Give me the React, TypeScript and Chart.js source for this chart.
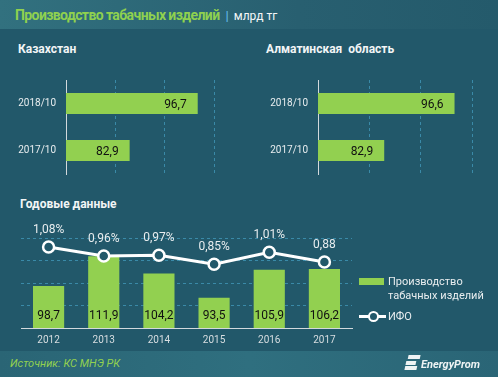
import React, { useEffect, useRef } from 'react';
import { Chart, registerables } from 'chart.js';

Chart.register(...registerables);

const FONT = 'Roboto, "Noto Sans", sans-serif';
const BG = '#22586a';
const GREEN = '#92d050';
const GRID = '#3a8aa8';
const AXIS = '#d3d9dc';
const LABEL = '#e8edef';

// Data
const periodLabels = ['2018/10', '2017/10'];
const kazakhstanValues = [96.7, 82.9];
const almatyValues = [96.6, 82.9];
const years = ['2012', '2013', '2014', '2015', '2016', '2017'];
const productionValues = [98.7, 111.9, 104.2, 93.5, 105.9, 106.2];
const ifoValues = [1.08, 0.96, 0.97, 0.85, 1.01, 0.88];
const ifoLabels = ['1,08%', '0,96%', '0,97%', '0,85%', '1,01%', '0,88'];

const fmt = (v: number) => v.toFixed(1).replace('.', ',');

type HBarProps = {
  values: number[];
  left: number;
  top: number;
  width: number;
  height: number;
  axisWidth: number;
  padRight: number;
};

function HBar({ values, left, top, width, height, axisWidth, padRight }: HBarProps) {
  const ref = useRef<HTMLCanvasElement>(null);
  useEffect(() => {
    const labelPlugin = {
      id: 'hbarLabels',
      afterDatasetsDraw(chart: any) {
        const ctx = chart.ctx;
        const meta = chart.getDatasetMeta(0);
        ctx.save();
        ctx.font = `12px ${FONT}`;
        ctx.fillStyle = '#111';
        ctx.textAlign = 'right';
        ctx.textBaseline = 'middle';
        meta.data.forEach((bar: any, i: number) => {
          ctx.fillText(fmt(values[i]), bar.x - 11, bar.y + 1);
        });
        ctx.restore();
      },
    };
    const chart = new Chart(ref.current as HTMLCanvasElement, {
      type: 'bar',
      data: {
        labels: periodLabels,
        datasets: [
          {
            data: values,
            backgroundColor: GREEN,
            barPercentage: 0.45,
            categoryPercentage: 1,
          },
        ],
      },
      options: {
        indexAxis: 'y',
        responsive: false,
        animation: false,
        layout: { padding: { left: 0, right: padRight, top: 10, bottom: 8 } },
        plugins: { legend: { display: false }, tooltip: { enabled: false } },
        scales: {
          x: {
            min: 70,
            max: 100,
            ticks: { display: false, stepSize: 10 },
            grid: {
              color: (c: any) => (c.tick && c.tick.value === 70 ? 'rgba(0,0,0,0)' : GRID),
              drawTicks: false,
              lineWidth: 1,
            },
            border: { display: false, dash: [3, 3] },
            afterFit: (s: any) => {
              s.height = 0;
            },
          },
          y: {
            ticks: { color: LABEL, font: { family: FONT, size: 10 }, padding: 10 },
            grid: { display: false, drawTicks: false },
            border: { display: true, color: AXIS, width: 1 },
            afterFit: (s: any) => {
              s.width = axisWidth;
            },
          },
        },
      } as any,
      plugins: [labelPlugin],
    });
    return () => chart.destroy();
  }, []);
  return (
    <canvas
      ref={ref}
      width={width}
      height={height}
      style={{ position: 'absolute', left, top, width, height }}
    />
  );
}

function Annual() {
  const ref = useRef<HTMLCanvasElement>(null);
  useEffect(() => {
    const labelPlugin = {
      id: 'annualLabels',
      afterDatasetsDraw(chart: any) {
        const ctx = chart.ctx;
        const lineMeta = chart.getDatasetMeta(0);
        const barMeta = chart.getDatasetMeta(1);
        ctx.save();
        ctx.font = `12px ${FONT}`;
        ctx.textAlign = 'center';
        ctx.textBaseline = 'middle';
        ctx.fillStyle = '#111';
        barMeta.data.forEach((bar: any, i: number) => {
          ctx.fillText(fmt(productionValues[i]), bar.x, chart.chartArea.bottom - 12);
        });
        ctx.fillStyle = LABEL;
        lineMeta.data.forEach((pt: any, i: number) => {
          ctx.fillText(ifoLabels[i], pt.x, pt.y - 17);
        });
        ctx.restore();
      },
    };
    const chart = new Chart(ref.current as HTMLCanvasElement, {
      type: 'bar',
      data: {
        labels: years,
        datasets: [
          {
            type: 'line',
            data: ifoValues,
            yAxisID: 'y1',
            borderColor: '#ffffff',
            borderWidth: 3,
            pointRadius: 5.5,
            pointBackgroundColor: BG,
            pointBorderColor: '#ffffff',
            pointBorderWidth: 2.5,
            tension: 0,
            clip: false,
          },
          {
            type: 'bar',
            data: productionValues,
            yAxisID: 'y',
            backgroundColor: GREEN,
            barPercentage: 0.565,
            categoryPercentage: 1,
          },
        ],
      },
      options: {
        responsive: false,
        animation: false,
        layout: { padding: { left: 21, right: 18, top: 23, bottom: 0 } },
        plugins: { legend: { display: false }, tooltip: { enabled: false } },
        scales: {
          x: {
            offset: true,
            ticks: { color: '#d8dee1', font: { family: FONT, size: 10 }, padding: 6 },
            grid: { display: false, drawTicks: false },
            border: { display: true, color: AXIS, width: 1 },
            afterFit: (s: any) => {
              s.height = 22;
            },
          },
          y: {
            min: 80,
            max: 120,
            ticks: { display: false, stepSize: 10 },
            grid: {
              color: (c: any) => (c.tick && c.tick.value === 80 ? 'rgba(0,0,0,0)' : GRID),
              drawTicks: false,
              lineWidth: 1,
            },
            border: { display: false, dash: [3, 3] },
            afterFit: (s: any) => {
              s.width = 0;
            },
          },
          y1: {
            display: false,
            min: 0,
            max: 1.2,
          },
        },
      } as any,
      plugins: [labelPlugin],
    });
    return () => chart.destroy();
  }, []);
  return (
    <canvas
      ref={ref}
      width={370}
      height={135}
      style={{ position: 'absolute', left: 0, top: 215, width: 370, height: 135 }}
    />
  );
}

export default function App() {
  const abs = (o: React.CSSProperties): React.CSSProperties => ({ position: 'absolute', whiteSpace: 'nowrap', ...o });
  return (
    <div
      style={{
        position: 'fixed',
        left: 0,
        top: 0,
        width: 498,
        height: 377,
        background: BG,
        overflow: 'hidden',
        fontFamily: FONT,
      }}
    >
      {/* header */}
      <div style={abs({ left: 0, top: 0, width: 498, height: 29, background: 'linear-gradient(to right, #32717f, #285f70 60%, #245a6b)' })} />
      <div style={abs({ left: 15, top: 6, lineHeight: '18px', fontSize: 14 })}>
        <span style={{ color: '#8fd14f', fontWeight: 700, letterSpacing: -0.6 }}>Производство табачных изделий</span>
        <span style={{ color: '#5fb3e3', fontWeight: 700, marginLeft: 6, fontSize: 13 }}>|</span>
        <span style={{ color: '#f4f7f8', marginLeft: 5, fontSize: 12 }}>млрд тг</span>
      </div>

      {/* section titles */}
      <div style={abs({ left: 18, top: 41, lineHeight: '16px', fontSize: 12, fontWeight: 700, color: '#f2f5f6' })}>Казахстан</div>
      <div style={abs({ left: 266, top: 41, lineHeight: '16px', fontSize: 12, fontWeight: 700, color: '#f2f5f6', whiteSpace: 'pre' })}>Алматинская  область</div>
      <div style={abs({ left: 20, top: 196, lineHeight: '16px', fontSize: 12, fontWeight: 700, color: '#f2f5f6' })}>Годовые данные</div>

      <HBar values={kazakhstanValues} left={0} top={64} width={250} height={126} axisWidth={66} padRight={36} />
      <HBar values={almatyValues} left={250} top={64} width={248} height={126} axisWidth={68} padRight={26} />
      <Annual />

      {/* legend */}
      <div style={abs({ left: 359, top: 278, width: 25, height: 7, background: GREEN })} />
      <div style={abs({ left: 388, top: 274.5, lineHeight: '14.3px', fontSize: 11, color: LABEL })}>
        Производство
        <br />
        табачных изделий
      </div>
      <div style={abs({ left: 359, top: 315.3, width: 27, height: 3, background: '#ffffff' })} />
      <div
        style={abs({
          left: 367.8,
          top: 311.3,
          width: 11,
          height: 11,
          borderRadius: '50%',
          border: '2.5px solid #ffffff',
          background: BG,
          boxSizing: 'border-box',
        })}
      />
      <div style={abs({ left: 388, top: 309.5, lineHeight: '14px', fontSize: 11, color: LABEL })}>ИФО</div>

      {/* footer */}
      <div style={abs({ left: 0, top: 351, width: 498, height: 26, background: 'linear-gradient(to right, #2a6575, #2f6f7f 50%, #2a6576)' })} />
      <div style={abs({ left: 10, top: 356, lineHeight: '15px', fontSize: 11, fontStyle: 'italic', color: '#92d050' })}>
        Источник: КС МНЭ РК
      </div>
      <div style={abs({ left: 406, top: 355, width: 13, height: 15, transform: 'skewX(-12deg)' })}>
        <div style={{ position: 'absolute', left: 1, top: 0, width: 12, height: 4, background: '#eef3f4' }} />
        <div style={{ position: 'absolute', left: 0, top: 5.5, width: 10, height: 4, background: '#eef3f4' }} />
        <div style={{ position: 'absolute', left: 0, top: 11, width: 12, height: 4, background: '#eef3f4' }} />
      </div>
      <div style={abs({ left: 421, top: 356.5, lineHeight: '15px', fontSize: 11, fontWeight: 700, fontStyle: 'italic', color: '#eef3f4' })}>
        EnergyProm
      </div>
    </div>
  );
}
